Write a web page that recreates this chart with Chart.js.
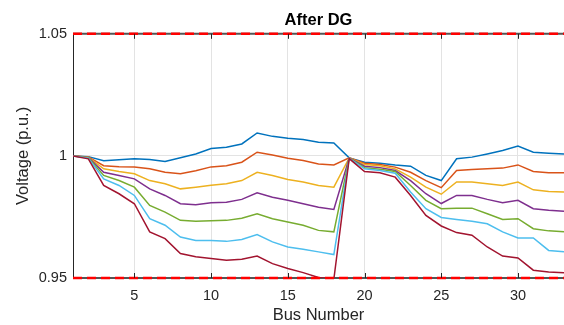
<!DOCTYPE html>
<html>
<head>
<meta charset="utf-8">
<script src="https://cdn.jsdelivr.net/npm/chart.js@4"></script>
<style>
  html, body { margin: 0; padding: 0; background: #fff; }
  canvas { display: block; }
</style>
</head>
<body>
<canvas id="voltageChart" width="564" height="325"></canvas>
<script>
// bus numbers (x) and voltage profiles (p.u.) for each case
const busNumbers = [1, 2, 3, 4, 5, 6, 7, 8, 9, 10, 11, 12, 13, 14, 15, 16, 17, 18, 19, 20, 21, 22, 23, 24, 25, 26, 27, 28, 29, 30, 31, 32, 33];

const voltageCase1 = [1.0000, 0.9997, 0.9980, 0.9984, 0.9988, 0.9985, 0.9977, 0.9992, 1.0008, 1.0030, 1.0035, 1.0049, 1.0094, 1.0080, 1.0072, 1.0067, 1.0056, 1.0053, 0.9992, 0.9974, 0.9970, 0.9963, 0.9958, 0.9920, 0.9899, 0.9988, 0.9995, 1.0008, 1.0022, 1.0040, 1.0015, 1.0011, 1.0008];
const voltageCase2 = [1.0000, 0.9996, 0.9960, 0.9956, 0.9955, 0.9947, 0.9933, 0.9927, 0.9939, 0.9955, 0.9960, 0.9974, 1.0015, 1.0004, 0.9990, 0.9981, 0.9967, 0.9963, 0.9992, 0.9970, 0.9965, 0.9954, 0.9933, 0.9899, 0.9870, 0.9940, 0.9944, 0.9947, 0.9950, 0.9963, 0.9936, 0.9931, 0.9931];
const voltageCase3 = [1.0000, 0.9995, 0.9947, 0.9936, 0.9927, 0.9899, 0.9886, 0.9865, 0.9872, 0.9880, 0.9886, 0.9899, 0.9933, 0.9920, 0.9903, 0.9893, 0.9879, 0.9872, 0.9992, 0.9965, 0.9960, 0.9947, 0.9913, 0.9872, 0.9843, 0.9893, 0.9893, 0.9886, 0.9879, 0.9893, 0.9861, 0.9854, 0.9852];
const voltageCase4 = [1.0000, 0.9994, 0.9933, 0.9920, 0.9906, 0.9865, 0.9838, 0.9804, 0.9800, 0.9808, 0.9810, 0.9822, 0.9849, 0.9831, 0.9818, 0.9804, 0.9790, 0.9781, 0.9991, 0.9958, 0.9952, 0.9940, 0.9899, 0.9845, 0.9805, 0.9838, 0.9838, 0.9822, 0.9808, 0.9818, 0.9784, 0.9777, 0.9773];
const voltageCase5 = [1.0000, 0.9993, 0.9920, 0.9899, 0.9872, 0.9797, 0.9770, 0.9736, 0.9732, 0.9734, 0.9736, 0.9745, 0.9763, 0.9743, 0.9729, 0.9716, 0.9695, 0.9689, 0.9991, 0.9952, 0.9945, 0.9936, 0.9879, 0.9818, 0.9784, 0.9786, 0.9786, 0.9763, 0.9740, 0.9743, 0.9702, 0.9693, 0.9689];
const voltageCase6 = [1.0000, 0.9991, 0.9906, 0.9879, 0.9838, 0.9743, 0.9716, 0.9668, 0.9654, 0.9654, 0.9650, 0.9658, 0.9678, 0.9648, 0.9627, 0.9618, 0.9607, 0.9596, 0.9990, 0.9947, 0.9940, 0.9929, 0.9852, 0.9784, 0.9748, 0.9740, 0.9732, 0.9722, 0.9689, 0.9664, 0.9664, 0.9613, 0.9607];
const voltageCase7 = [1.0000, 0.9988, 0.9879, 0.9845, 0.9804, 0.9689, 0.9661, 0.9600, 0.9587, 0.9580, 0.9573, 0.9577, 0.9590, 0.9559, 0.9539, 0.9522, 0.9502, 0.9495, 0.9989, 0.9936, 0.9931, 0.9913, 0.9838, 0.9756, 0.9713, 0.9686, 0.9675, 0.9627, 0.9590, 0.9582, 0.9532, 0.9525, 0.9522];

const voltageLimits = [0.95, 1.05];
const xTicks = [5, 10, 15, 20, 25, 30];
const yTicks = [0.95, 1, 1.05];

const cases = [voltageCase1, voltageCase2, voltageCase3, voltageCase4, voltageCase5, voltageCase6, voltageCase7];
const colors = ['#0072BD', '#D95319', '#EDB120', '#7E2F8E', '#77AC30', '#4DBEEE', '#A2142F'];

const FONT = "'Liberation Sans', Arial, sans-serif";
const AXIS_COLOR = '#262626';

const datasets = cases.map((vals, i) => ({
    data: busNumbers.map((b, j) => ({ x: b, y: vals[j] })),
    borderColor: colors[i],
    borderWidth: 1.5,
    pointRadius: 0,
    tension: 0,
    fill: false,
    order: cases.length - i + 1,
}));

// red dashed limit lines
voltageLimits.forEach(lim => {
    datasets.push({
        data: [{ x: busNumbers[0], y: lim }, { x: busNumbers[busNumbers.length - 1], y: lim }],
        borderColor: '#ff0000',
        borderWidth: 2.5,
        borderDash: [9, 5],
        pointRadius: 0,
        fill: false,
        clip: false,
        order: 0,
    });
});

// box edges and inward tick marks (matlab style)
const framePlugin = {
    id: 'frame',
    beforeDatasetsDraw(chart) {
        const { ctx, chartArea: a } = chart;
        ctx.save();
        ctx.strokeStyle = '#555';
        ctx.lineWidth = 2;
        ctx.beginPath();
        ctx.moveTo(a.left, a.top); ctx.lineTo(a.right, a.top);
        ctx.moveTo(a.left, a.bottom); ctx.lineTo(a.right, a.bottom);
        ctx.stroke();
        ctx.restore();
    },
    afterDatasetsDraw(chart) {
        const { ctx, chartArea: a, scales } = chart;
        ctx.save();
        ctx.strokeStyle = AXIS_COLOR;
        ctx.lineWidth = 1;
        ctx.beginPath();
        xTicks.forEach(t => {
            const px = Math.round(scales.x.getPixelForValue(t)) + 0.5;
            ctx.moveTo(px, a.bottom); ctx.lineTo(px, a.bottom - 5);
            ctx.moveTo(px, a.top); ctx.lineTo(px, a.top + 5);
        });
        ctx.stroke();
        ctx.restore();
    }
};

new Chart(document.getElementById('voltageChart').getContext('2d'), {
    type: 'line',
    data: { datasets: datasets },
    options: {
        responsive: false,
        animation: false,
        devicePixelRatio: 1,
        layout: { padding: 0 },
        plugins: {
            legend: { display: false },
            tooltip: { enabled: false },
            title: {
                display: true,
                text: 'After DG',
                fullSize: false,
                color: '#000',
                font: { family: FONT, size: 16.5, weight: 'bold' },
                padding: { top: 11, bottom: 3 },
            },
        },
        scales: {
            x: {
                type: 'linear',
                min: 1,
                max: 33,
                afterBuildTicks: s => { s.ticks = xTicks.map(v => ({ value: v })); },
                afterFit: s => { s.height = 47; },
                ticks: {
                    color: AXIS_COLOR,
                    font: { family: FONT, size: 14.5 },
                    padding: 9,
                    maxRotation: 0,
                    autoSkip: false,
                },
                grid: { color: '#e3e3e3', drawTicks: false },
                border: { display: false },
                title: {
                    display: true,
                    text: 'Bus Number',
                    color: AXIS_COLOR,
                    font: { family: FONT, size: 16.5 },
                    padding: { top: 0, bottom: 0 },
                },
            },
            y: {
                min: 0.95,
                max: 1.05,
                afterBuildTicks: s => { s.ticks = yTicks.map(v => ({ value: v })); },
                afterFit: s => { s.width = 73; },
                ticks: {
                    color: AXIS_COLOR,
                    font: { family: FONT, size: 14.5 },
                    padding: 6,
                    callback: v => String(+v.toFixed(2)),
                },
                grid: { color: '#e3e3e3', drawTicks: false },
                border: { color: AXIS_COLOR, width: 1 },
                title: {
                    display: true,
                    text: 'Voltage (p.u.)',
                    color: AXIS_COLOR,
                    font: { family: FONT, size: 16.5 },
                    padding: { top: 14, bottom: 0 },
                },
            },
        },
    },
    plugins: [framePlugin],
});
</script>
</body>
</html>
